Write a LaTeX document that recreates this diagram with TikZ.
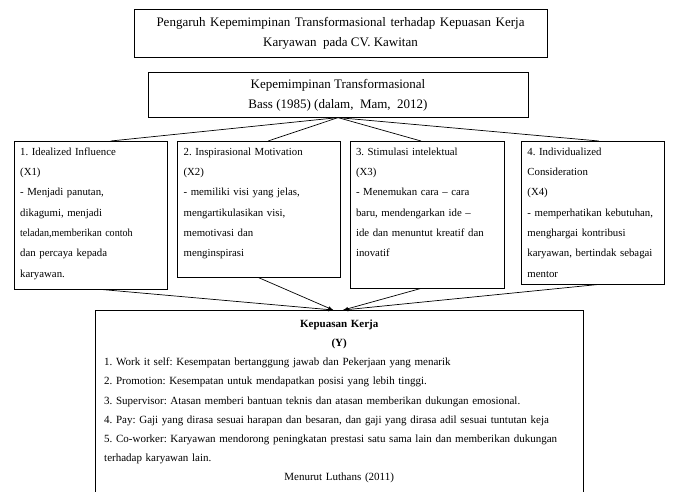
\documentclass[tikz,border=0pt]{standalone}
\usepackage{fontspec}
\setmainfont{Liberation Serif}
\usepackage{graphicx}
\usepackage{tikz}
\usetikzlibrary{shapes, arrows, positioning}
\frenchspacing

\begin{document}
\begin{tikzpicture}[
        x=1pt, y=-1pt,
        node distance=10pt,
        every node/.style={font=\fontsize{10.8}{20.3}\selectfont},
        header/.style={rectangle, draw, align=center, inner sep=0pt, font=\fontsize{13}{20}\selectfont},
        dimensi/.style={rectangle, draw, anchor=north west, align=left, inner xsep=6pt, inner ysep=5pt, text height=9pt},
        link/.style={line width=0.7pt},
        panah/.style={line width=0.7pt, -latex}
    ]
    \useasboundingbox (0,0) rectangle (674,491);

    \node[header, minimum width=413pt, minimum height=48pt] (judul) at (340.5,33) {\makebox[368pt][s]{Pengaruh Kepemimpinan Transformasional terhadap Kepuasan Kerja}\\ Karyawan\ \ pada CV. Kawitan};
    \node[header, minimum width=380pt, minimum height=45pt, below=15pt of judul, xshift=-2.5pt] (kep) {Kepemimpinan Transformasional\\ Bass (1985) (dalam,\ \ Mam,\ \ 2012)};

    % Dimensi kepemimpinan
    \node[dimensi, text width=141pt, text depth=129pt] (x1) at (14,141) {1. Idealized Influence\\ (X1)\\ - Menjadi panutan,\\ dikagumi, menjadi\\ \scalebox{0.93}[1]{teladan,memberikan contoh}\\ dan percaya kepada\\ karyawan.};
    \node[dimensi, text width=151pt, text depth=117pt, right=10pt of x1.north east, anchor=north west] (x2) {2. Inspirasional Motivation\\ (X2)\\ - memiliki visi yang jelas,\\ mengartikulasikan visi,\\ memotivasi dan\\ menginspirasi};
    \node[dimensi, text width=142pt, text depth=128pt, right=9pt of x2.north east, anchor=north west] (x3) {3. Stimulasi intelektual\\ (X3)\\ - Menemukan cara -- cara\\ baru, mendengarkan ide --\\ ide dan menuntut kreatif dan\\ inovatif};
    \node[dimensi, text width=131pt, text depth=124pt, right=17pt of x3.north east, anchor=north west] (x4) {4. Individualized\\ Consideration\\ (X4)\\ - memperhatikan kebutuhan,\\ menghargai kontribusi\\ karyawan, bertindak sebagai\\ mentor};

    % Kepuasan kerja
    \node[dimensi, text width=470pt, inner xsep=9pt, text height=12pt, text depth=163pt, font=\fontsize{11}{19.2}\selectfont] (kepuasan) at (95,310) {%
        \centering\textbf{Kepuasan Kerja}\\ \textbf{(Y)}\par
        \raggedright 1. Work it self: Kesempatan bertanggung jawab dan Pekerjaan yang menarik\\
        2. Promotion: Kesempatan untuk mendapatkan posisi yang lebih tinggi.\\
        3. Supervisor: Atasan memberi bantuan teknis dan atasan memberikan dukungan emosional.\\
        4. Pay: Gaji yang dirasa sesuai harapan dan besaran, dan gaji yang dirasa adil sesuai tuntutan keja\\
        5. Co-worker: Karyawan mendorong peningkatan prestasi satu sama lain dan memberikan dukungan\\
        terhadap karyawan lain.\par
        \centering Menurut Luthans (2011)\par};

    % Garis dari kepemimpinan
    \draw[link] (kep.south) -- ([xshift=20pt]x1.north);
    \draw[link] (kep.south) -- ([xshift=9pt]x2.north);
    \draw[link] (kep.south) -- ([xshift=-6pt]x3.north);
    \draw[link] (kep.south) -- ([xshift=6pt]x4.north);

    % Panah ke kepuasan kerja
    \coordinate (masukL) at ([xshift=-6pt]kepuasan.north);
    \coordinate (masukR) at ([xshift=4pt]kepuasan.north);
    \draw[panah] ([xshift=10pt]x1.south) -- (masukL);
    \draw[panah] ([xshift=-1pt]x2.south) -- (masukL);
    \draw[panah] ([xshift=-6pt]x3.south) -- (masukR);
    \draw[panah] ([xshift=6pt]x4.south) -- (masukR);
\end{tikzpicture}
\end{document}
